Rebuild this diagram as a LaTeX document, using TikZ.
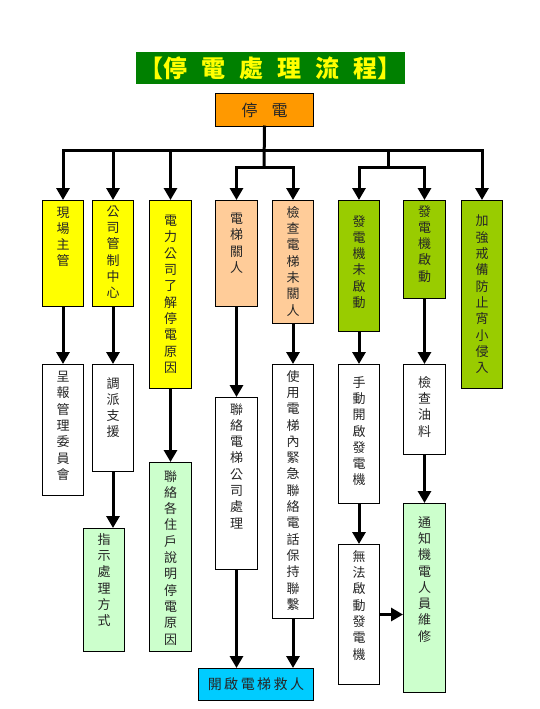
\documentclass[tikz,border=0pt]{standalone}
\usepackage{fontspec}
\usepackage{xcolor}
\usetikzlibrary{arrows.meta}
\newfontfamily\cjk{Noto Sans CJK TC}
\XeTeXlinebreaklocale "zh"
\XeTeXlinebreakskip=0pt plus 1pt
\newcommand\cgap[1]{\hspace{#1}}

\definecolor{titlegreen}{HTML}{008000}
\definecolor{titleyellow}{HTML}{FFFF00}
\definecolor{boxorange}{HTML}{FF9900}
\definecolor{boxyellow}{HTML}{FFFF00}
\definecolor{boxpeach}{HTML}{FFCC99}
\definecolor{boxleaf}{HTML}{99CC00}
\definecolor{boxmint}{HTML}{CCFFCC}
\definecolor{boxsky}{HTML}{00CCFF}

\begin{document}
\begin{tikzpicture}[x=1pt, y=-1pt,
    box/.style={draw, line width=1pt, inner sep=0pt, anchor=north west, minimum width=41pt},
    vlab/.style={anchor=north, yshift=-#1, inner sep=0pt, text width=14pt, align=center,
      font=\cjk\fontsize{13}{16.3}\selectfont, text=black!85},
    vlab/.default=6pt,
    bar/.style={line width=3pt, line cap=rect},
    arr/.style={line width=3pt, -{Triangle[width=13pt,length=12pt]}}]
    \useasboundingbox (0,0) rectangle (540,709);

    % Title and start box
    \node[fill=titlegreen, anchor=north west, inner sep=0pt, minimum width=269pt, minimum height=32pt,
      text=titleyellow, font=\cjk\bfseries\fontsize{24}{24}\selectfont]
      (title) at (136,52) {【停\cgap{14pt}電\cgap{14pt}處\cgap{14pt}理\cgap{14pt}流\cgap{14pt}程】};
    \node[draw, line width=1pt, fill=boxorange, anchor=north west, inner sep=0pt, minimum width=98pt,
      minimum height=33pt, text=black!85, font=\cjk\fontsize{16}{16}\selectfont]
      (tingdian) at (215,93) {停\cgap{14pt}電};

    % First row of boxes
    \node[box, fill=boxyellow, minimum height=106pt, label={[vlab=6.5pt]north:現場主管}] (xianchang) at (42,200) {};
    \node[box, fill=boxyellow, minimum height=106pt, label={[vlab=5.5pt]north:公司管制中心}] (gongsi) at (92,200) {};
    \node[box, fill=boxyellow, minimum width=42pt, minimum height=188pt, label={[vlab=15pt]north:電力公司了解停電原因}] (dianli) at (149,200) {};
    \node[box, fill=boxpeach, minimum width=42pt, minimum height=106pt, label={[vlab=13pt]north:電梯關人}] (guanren) at (215,200) {};
    \node[box, fill=boxpeach, minimum height=123pt, label={[vlab=6pt]north:檢查電梯未關人}] (jiancha) at (272,200) {};
    \node[box, fill=boxleaf, minimum height=131pt, label={[vlab=15pt]north:發電機未啟動}] (weiqidong) at (338,200) {};
    \node[box, fill=boxleaf, minimum width=42pt, minimum height=98pt, label={[vlab=5pt]north:發電機啟動}] (qidong) at (403,200) {};
    \node[box, fill=boxleaf, minimum height=188pt, label={[vlab=15pt]north:加強戒備防止宵小侵入}] (jiaqiang) at (461,200) {};

    % Second and third rows
    \node[box, fill=white, minimum height=131pt, label={[vlab=7pt]north:呈報管理委員會}] (chengbao) at (42,364) {};
    \node[box, fill=white, minimum height=107pt, label={[vlab=13pt]north:調派支援}] (diaopai) at (92,364) {};
    \node[box, fill=boxmint, minimum height=123pt, label={[vlab=5pt]north:指示處理方式}] (zhishi) at (83,528) {};
    \node[box, fill=boxmint, minimum width=42pt, minimum height=189pt, label={[vlab=8pt]north:聯絡各住戶說明停電原因}] (zhuhu) at (149,462) {};
    \node[box, fill=white, minimum width=42pt, minimum height=172pt, label={[vlab=6pt]north:聯絡電梯公司處理}] (lianluo) at (215,397) {};
    \node[box, fill=white, minimum height=254pt, label={[vlab=6pt]north:使用電梯內緊急聯絡電話保持聯繫}] (shiyong) at (272,364) {};
    \node[box, fill=white, minimum height=139pt, label={[vlab=12pt]north:手動開啟發電機}] (shoudong) at (338,364) {};
    \node[box, fill=white, minimum height=140pt, label={[vlab=6pt]north:無法啟動發電機}] (wufa) at (338,544) {};
    \node[box, fill=white, minimum width=42pt, minimum height=90pt, label={[vlab=12pt]north:檢查油料}] (youliao) at (403,364) {};
    \node[box, fill=boxmint, minimum width=42pt, minimum height=189pt, label={[vlab=13pt]north:通知機電人員維修}] (tongzhi) at (403,503) {};
    \node[box, fill=boxsky, minimum width=115pt, minimum height=32pt, text=black!85,
      font=\cjk\fontsize{14}{14}\selectfont] (jiuren) at (198,668)
      {開\cgap{2.5pt}啟\cgap{2.5pt}電\cgap{2.5pt}梯\cgap{2.5pt}救\cgap{2.5pt}人};

    % Bus lines under the start box
    \coordinate (bus) at (264,150);
    \coordinate (midbar) at (264,167);
    \coordinate (rightbar) at (388,167);
    \draw[bar] (tingdian.south) -- (midbar);
    \draw[bar] (xianchang.north |- bus) -- (jiaqiang.north |- bus);
    \draw[bar] (rightbar |- bus) -- (rightbar);
    \foreach \n in {xianchang,gongsi,dianli,jiaqiang}
      \draw[arr] (\n.north |- bus) -- (\n.north);
    \foreach \n in {guanren,jiancha}
      \draw[arr] (midbar) -| (\n.north);
    \foreach \n in {weiqidong,qidong}
      \draw[arr] (rightbar) -| (\n.north);

    % Arrows between the boxes
    \foreach \a/\b in {xianchang/chengbao, gongsi/diaopai, diaopai/zhishi, dianli/zhuhu,
        guanren/lianluo, lianluo/jiuren, jiancha/shiyong, shiyong/jiuren,
        weiqidong/shoudong, shoudong/wufa, qidong/youliao, youliao/tongzhi}
      \draw[arr] (\a.south) -- (\a.south |- \b.north);
    \draw[arr] (wufa.east) -- (wufa.east -| tongzhi.west);
\end{tikzpicture}
\end{document}
